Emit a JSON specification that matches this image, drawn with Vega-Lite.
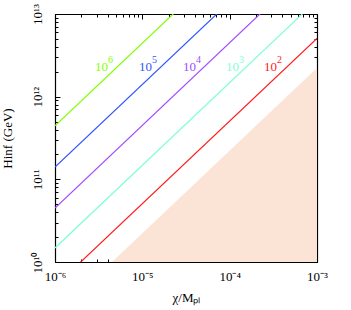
{
  "$schema": "https://vega.github.io/schema/vega-lite/v6.json",
  "width": 262,
  "height": 248,
  "autosize": {"type": "none"},
  "padding": {"left": 55, "top": 14, "right": 34, "bottom": 48},
  "background": "white",
  "config": {
    "view": {"stroke": "black", "strokeWidth": 1},
    "axis": {
      "grid": false,
      "domainColor": "black",
      "domainWidth": 1.2,
      "tickColor": "black",
      "tickWidth": 1,
      "labelFont": "Liberation Serif",
      "labelFontSize": 13,
      "labelColor": "black",
      "labelOverlap": false,
      "labelFlush": false,
      "titleFont": "Liberation Serif",
      "titleFontSize": 13,
      "titleFontWeight": "normal",
      "titleColor": "black"
    }
  },
  "datasets": {
    "shade": [
      {"x": 4.498e-6, "y": 1e10, "y2": 1e10},
      {"x": 1e-3, "y": 2.223e12, "y2": 1e10}
    ],
    "lines": [
      {"series": "1e6", "x": 1e-6, "y": 4.436e11},
      {"series": "1e6", "x": 1e-3, "y": 4.436e14},
      {"series": "1e5", "x": 1e-6, "y": 1.403e11},
      {"series": "1e5", "x": 1e-3, "y": 1.403e14},
      {"series": "1e4", "x": 1e-6, "y": 4.498e10},
      {"series": "1e4", "x": 1e-3, "y": 4.498e13},
      {"series": "1e3", "x": 1e-6, "y": 1.479e10},
      {"series": "1e3", "x": 1e-3, "y": 1.479e13},
      {"series": "1e2", "x": 1e-6, "y": 5.08e9},
      {"series": "1e2", "x": 1e-3, "y": 5.08e12}
    ],
    "labels": [
      {"series": "1e6", "x": 2.871e-6, "y": 2.04e12, "base": "10", "exp": "6"},
      {"series": "1e5", "x": 9.16e-6, "y": 2.04e12, "base": "10", "exp": "5"},
      {"series": "1e4", "x": 2.924e-5, "y": 2.04e12, "base": "10", "exp": "4"},
      {"series": "1e3", "x": 9.08e-5, "y": 2.04e12, "base": "10", "exp": "3"},
      {"series": "1e2", "x": 2.472e-4, "y": 2.04e12, "base": "10", "exp": "2"}
    ]
  },
  "layer": [
    {
      "data": {"name": "shade"},
      "mark": {"type": "area", "color": "#fbe3d6", "opacity": 1, "clip": true},
      "encoding": {
        "x": {
          "field": "x", "type": "quantitative",
          "scale": {"type": "log", "domain": [1e-6, 1e-3], "nice": false},
          "axis": {
            "orient": "bottom",
            "title": "χ/Mₚₗ",
            "titlePadding": 6,
            "values": [1e-6, 2e-6, 3e-6, 4e-6, 5e-6, 6e-6, 7e-6, 8e-6, 9e-6, 1e-5, 2e-5, 3e-5, 4e-5, 5e-5, 6e-5, 7e-5, 8e-5, 9e-5, 1e-4, 2e-4, 3e-4, 4e-4, 5e-4, 6e-4, 7e-4, 8e-4, 9e-4, 1e-3],
            "labelExpr": "datum.value==1e-6?'10⁻⁶':datum.value==1e-5?'10⁻⁵':datum.value==1e-4?'10⁻⁴':datum.value==1e-3?'10⁻³':''",
            "labelBaseline": "top",
            "labelPadding": 13,
            "tickSize": {"condition": {"test": "abs(log(datum.value)/LN10 - round(log(datum.value)/LN10)) < 0.01", "value": -5}, "value": -3}
          }
        },
        "y": {
          "field": "y", "type": "quantitative",
          "scale": {"type": "log", "domain": [1e10, 1e13], "nice": false},
          "axis": {
            "orient": "left",
            "title": "Hinf (GeV)",
            "titleX": -44,
            "titleBaseline": "alphabetic",
            "values": [1e10, 2e10, 3e10, 4e10, 5e10, 6e10, 7e10, 8e10, 9e10, 1e11, 2e11, 3e11, 4e11, 5e11, 6e11, 7e11, 8e11, 9e11, 1e12, 2e12, 3e12, 4e12, 5e12, 6e12, 7e12, 8e12, 9e12, 1e13],
            "labelExpr": "datum.value==1e10?'10¹⁰':datum.value==1e11?'10¹¹':datum.value==1e12?'10¹²':datum.value==1e13?'10¹³':''",
            "labelAngle": -90,
            "labelAlign": "center",
            "labelBaseline": "alphabetic",
            "labelPadding": 19,
            "tickSize": {"condition": {"test": "abs(log(datum.value)/LN10 - round(log(datum.value)/LN10)) < 0.01", "value": -5}, "value": -3}
          }
        },
        "y2": {"field": "y2"}
      }
    },
    {
      "data": {"name": "lines"},
      "mark": {"type": "line", "strokeWidth": 1.2, "clip": true},
      "encoding": {
        "x": {
          "field": "x", "type": "quantitative",
          "scale": {"type": "log", "domain": [1e-6, 1e-3], "nice": false},
          "axis": {
            "orient": "top",
            "title": null,
            "labels": false,
            "values": [1e-6, 2e-6, 3e-6, 4e-6, 5e-6, 6e-6, 7e-6, 8e-6, 9e-6, 1e-5, 2e-5, 3e-5, 4e-5, 5e-5, 6e-5, 7e-5, 8e-5, 9e-5, 1e-4, 2e-4, 3e-4, 4e-4, 5e-4, 6e-4, 7e-4, 8e-4, 9e-4, 1e-3],
            "tickSize": {"condition": {"test": "abs(log(datum.value)/LN10 - round(log(datum.value)/LN10)) < 0.01", "value": -5}, "value": -3}
          }
        },
        "y": {
          "field": "y", "type": "quantitative",
          "scale": {"type": "log", "domain": [1e10, 1e13], "nice": false},
          "axis": {
            "orient": "right",
            "title": null,
            "labels": false,
            "values": [1e10, 2e10, 3e10, 4e10, 5e10, 6e10, 7e10, 8e10, 9e10, 1e11, 2e11, 3e11, 4e11, 5e11, 6e11, 7e11, 8e11, 9e11, 1e12, 2e12, 3e12, 4e12, 5e12, 6e12, 7e12, 8e12, 9e12, 1e13],
            "tickSize": {"condition": {"test": "abs(log(datum.value)/LN10 - round(log(datum.value)/LN10)) < 0.01", "value": -5}, "value": -3}
          }
        },
        "color": {
          "field": "series", "type": "nominal",
          "scale": {"domain": ["1e6", "1e5", "1e4", "1e3", "1e2"], "range": ["#7fff00", "#2f55ff", "#a04cff", "#7fffd4", "#ff1a1a"]},
          "legend": null
        }
      }
    },
    {
      "data": {"name": "labels"},
      "mark": {"type": "text", "font": "Liberation Serif", "fontSize": 13, "align": "left", "baseline": "alphabetic"},
      "encoding": {
        "x": {"field": "x", "type": "quantitative", "scale": {"type": "log", "domain": [1e-6, 1e-3], "nice": false}, "axis": null},
        "y": {"field": "y", "type": "quantitative", "scale": {"type": "log", "domain": [1e10, 1e13], "nice": false}, "axis": null},
        "text": {"field": "base"},
        "color": {"field": "series", "type": "nominal", "legend": null}
      }
    },
    {
      "data": {"name": "labels"},
      "mark": {"type": "text", "font": "Liberation Serif", "fontSize": 10, "align": "left", "baseline": "alphabetic", "dx": 13, "dy": -8},
      "encoding": {
        "x": {"field": "x", "type": "quantitative", "scale": {"type": "log", "domain": [1e-6, 1e-3], "nice": false}, "axis": null},
        "y": {"field": "y", "type": "quantitative", "scale": {"type": "log", "domain": [1e10, 1e13], "nice": false}, "axis": null},
        "text": {"field": "exp"},
        "color": {"field": "series", "type": "nominal", "legend": null}
      }
    }
  ]
}
